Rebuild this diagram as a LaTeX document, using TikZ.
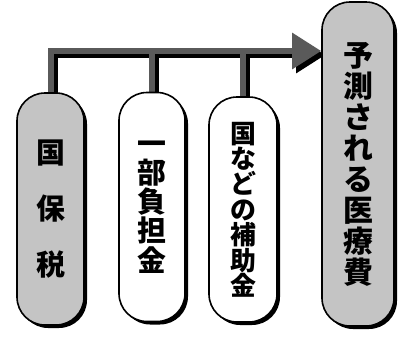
\documentclass[tikz,border=0pt]{standalone}
\usepackage{fontspec}
\newfontfamily\jp{Noto Sans CJK JP}
\usetikzlibrary{arrows.meta,shadows,backgrounds}
\definecolor{pillgray}{HTML}{C4C4C4}
\definecolor{bargray}{HTML}{5A5A5A}

\begin{document}
\begin{tikzpicture}
[x=1bp,y=-1bp]
\tikzset{pill/.style={draw,line width=1.6bp,rounded corners=28bp,inner sep=0pt,align=center,
  drop shadow={shadow xshift=3bp,shadow yshift=-3bp,fill=black,opacity=1}}}
\tikzset{gpill/.style={pill,fill=pillgray}}
\tikzset{wpill/.style={pill,fill=white}}
\tikzset{bar/.style={line width=6bp,draw=bargray}}
\tikzset{barshadow/.style={line width=6bp,draw=black,transform canvas={shift={(4bp,-4bp)}}}}
\tikzset{head/.style={-{Triangle[length=29bp,width=35bp]}}}
\useasboundingbox (0,0) rectangle (398,338);

\node [gpill,minimum width=67bp,minimum height=232bp,font=\jp\bfseries\fontsize{29}{56.5}\selectfont] (kokuho) at (50.5,209) {国\\保\\税};
\node [wpill,minimum width=66bp,minimum height=229bp,font=\jp\bfseries\fontsize{29}{29.3}\selectfont] (ichibu) at (152,207) {一\\部\\負\\担\\金};
\node [wpill,minimum width=68bp,minimum height=225bp,font=\jp\bfseries\fontsize{26}{25.5}\selectfont] (hojo) at (243,209.5) {国\\な\\ど\\の\\補\\助\\金};
\node [gpill,minimum width=72bp,minimum height=324bp,font=\jp\bfseries\fontsize{30}{31.1}\selectfont] (iryohi) at (358,164) {予\\測\\さ\\れ\\る\\医\\療\\費};

\coordinate (level) at (0,51);
\coordinate (tip) at (iryohi.west |- level);

\begin{scope}[on background layer]
\draw [barshadow,head] (kokuho.north) |- (tip);
\foreach \n in {ichibu,hojo}
	\draw [barshadow] (\n.north) -- (\n.north |- tip);
\draw [bar,head] (kokuho.north) |- (tip);
\foreach \n in {ichibu,hojo}
	\draw [bar] (\n.north) -- (\n.north |- tip);
\end{scope}
\end{tikzpicture}
\end{document}
